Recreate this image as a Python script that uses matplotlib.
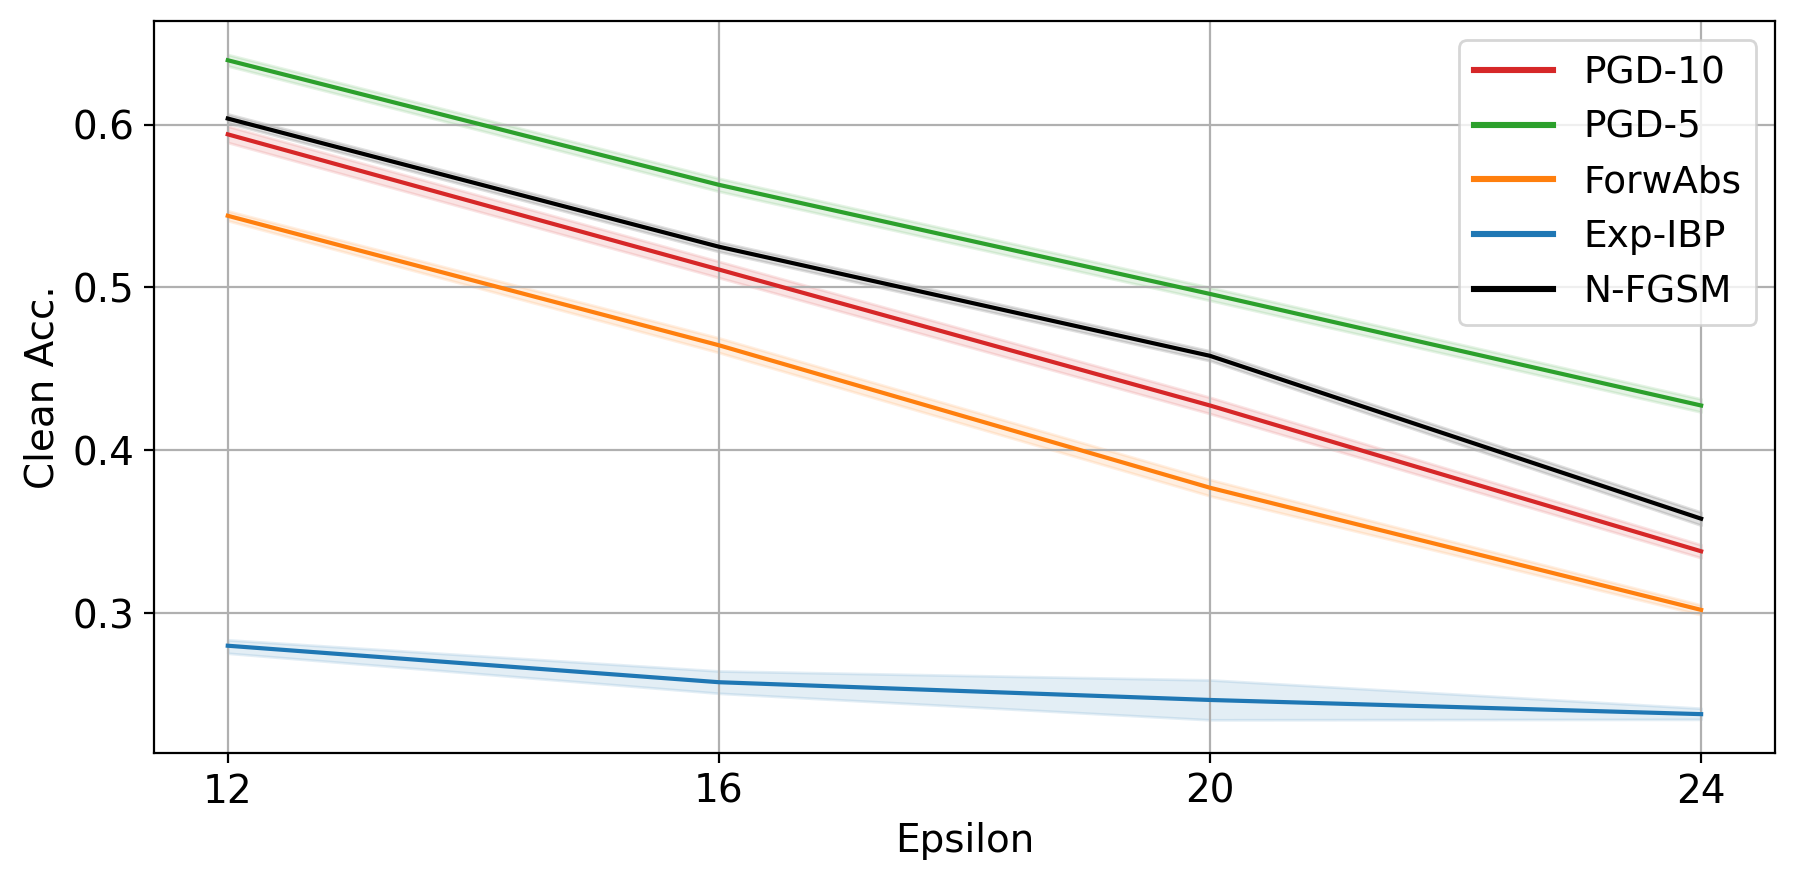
import numpy as np
from matplotlib import pyplot as plt
from matplotlib.lines import Line2D
from matplotlib.ticker import MultipleLocator

epsilons = [12, 16, 20, 24]

# mean clean accuracy per method
pgd10 = [0.594, 0.511, 0.4275, 0.338]
pgd5 = [0.6395, 0.563, 0.496, 0.4275]
forwabs = [0.544, 0.4645, 0.377, 0.302]
exp_ibp = [0.280, 0.2576, 0.2467, 0.238]
nfgsm = [0.6037, 0.525, 0.458, 0.358]

# lower / upper edges of the shaded bands
pgd10_lo = [0.589, 0.506, 0.4225, 0.334]
pgd10_hi = [0.599, 0.516, 0.4325, 0.342]
pgd5_lo = [0.636, 0.559, 0.492, 0.4235]
pgd5_hi = [0.643, 0.567, 0.500, 0.4315]
forwabs_lo = [0.541, 0.460, 0.372, 0.299]
forwabs_hi = [0.547, 0.469, 0.382, 0.305]
exp_ibp_lo = [0.2754, 0.2508, 0.2345, 0.2348]
exp_ibp_hi = [0.2836, 0.2645, 0.259, 0.2416]
nfgsm_lo = [0.601, 0.522, 0.455, 0.354]
nfgsm_hi = [0.6065, 0.528, 0.461, 0.362]

labels = ['PGD-10', 'PGD-5', 'ForwAbs', 'Exp-IBP', 'N-FGSM']
colors = ['tab:red', 'tab:green', 'tab:orange', 'tab:blue', 'black']

series = [
    (pgd10, pgd10_lo, pgd10_hi),
    (pgd5, pgd5_lo, pgd5_hi),
    (forwabs, forwabs_lo, forwabs_hi),
    (exp_ibp, exp_ibp_lo, exp_ibp_hi),
    (nfgsm, nfgsm_lo, nfgsm_hi),
]

plt.rcParams['font.size'] = 14

fig = plt.figure(figsize=(9, 4.43), dpi=200)
ax = fig.add_axes([0.0856, 0.150, 0.9004, 0.826])

for (mean, lo, hi), c in zip(series, colors):
    ax.fill_between(epsilons, lo, hi, color=c, alpha=0.12, linewidth=1)
    ax.plot(epsilons, mean, color=c, linewidth=1.5)

ax.set_xticks(epsilons)
ax.yaxis.set_major_locator(MultipleLocator(0.1))
ax.set_xlabel('Epsilon')
ax.set_ylabel('Clean Acc.')
ax.grid(True)

handles = [Line2D([0], [0], color=c, linewidth=2.2) for c in colors]
ax.legend(handles, labels, loc='upper right', handlelength=2.1, fontsize=13.5)

fig.savefig('out.png', dpi=200)
